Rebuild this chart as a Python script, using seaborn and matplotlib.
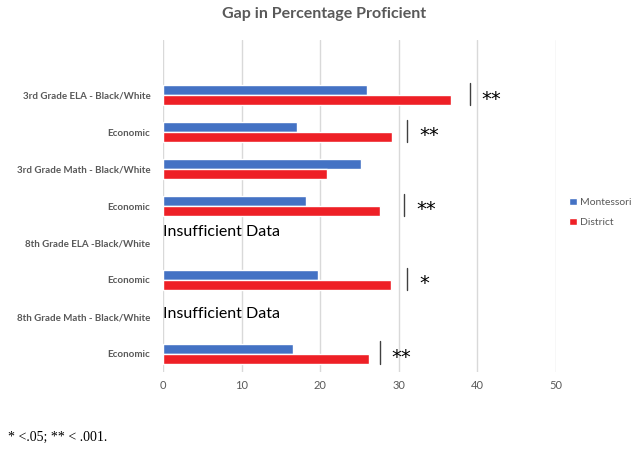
import matplotlib
matplotlib.use("Agg")
import matplotlib.pyplot as plt
import seaborn as sns
import pandas as pd
import numpy as np

categories = ["3rd Grade ELA - Black/White", "Economic", "3rd Grade Math - Black/White",
              "Economic", "8th Grade ELA -Black/White", "Economic",
              "8th Grade Math - Black/White", "Economic"]
montessori = [26.0, 17.0, 25.2, 18.2, np.nan, 19.7, np.nan, 16.5]
district = [36.7, 29.1, 20.9, 27.6, np.nan, 29.0, np.nan, 26.2]
sig_x = [39.0, 31.1, np.nan, 30.7, np.nan, 31.1, np.nan, 27.6]
sig_text = ["**", "**", "", "**", "", "*", "", "**"]
series = ["Montessori", "District"]
xticks = [0, 10, 20, 30, 40, 50]

keys = [f"{i}" for i in range(len(categories))]
rows = []
for k, m, d in zip(keys, montessori, district):
    rows.append({"cat": k, "series": "Montessori", "value": m})
    rows.append({"cat": k, "series": "District", "value": d})
df = pd.DataFrame(rows)

sns.set_theme(style="white")
plt.rcParams['font.family'] = ['Lato', 'DejaVu Sans']

fig = plt.figure(figsize=(6.35, 4.5), dpi=100)
ax = fig.add_axes([163/635, 1-372/450, (556-163)/635, (372-40)/450])

palette = {"Montessori": "#4472C4", "District": "#EE2026"}
sns.barplot(data=df, y="cat", x="value", hue="series", order=keys, hue_order=series,
            palette=palette, orient="h", width=0.54, ax=ax, saturation=1, legend=True)

ax.set_xlim(0, 50)
ax.set_ylim(len(keys) - 0.5, -1.5)
ax.set_xticks(xticks)
ax.set_xticklabels([str(t) for t in xticks], color="#595959", fontsize=8)
ax.set_yticks(range(len(keys)))
ax.set_yticklabels(categories, color="#595959", fontsize=7, fontweight="bold")
ax.tick_params(axis="both", length=0, pad=6)
ax.tick_params(axis="y", pad=9)
ax.set_xlabel("")
ax.set_ylabel("")
for s in ax.spines.values():
    s.set_visible(False)
ax.grid(axis="x", color="#D9D9D9", linewidth=1)
ax.set_axisbelow(True)

# Insufficient data labels (vertical offset per occurrence, in category units)
insuff_offsets = [-0.3, -0.08]
n = 0
for i, (m, d) in enumerate(zip(montessori, district)):
    if np.isnan(m) and np.isnan(d):
        off = insuff_offsets[min(n, len(insuff_offsets) - 1)]
        n += 1
        ax.text(0.0, i + off, "Insufficient Data", fontsize=11.5, color="black",
                va="center", ha="left")

# significance markers
for i, (sx, st) in enumerate(zip(sig_x, sig_text)):
    if not np.isnan(sx):
        ax.plot([sx, sx], [i - 0.33, i + 0.27], color="#404040", linewidth=1, clip_on=False)
        ax.text(sx + 1.5, i + 0.1, st, fontsize=14, color="black", va="center", ha="left",
                family="DejaVu Sans")

leg = ax.legend(loc="center left", bbox_to_anchor=(1.01, 0.48), frameon=False,
                fontsize=7.5, handlelength=0.7, handleheight=0.7, handletextpad=0.3,
                labelspacing=1.0)
for t in leg.get_texts():
    t.set_color("#595959")

fig.text(324/635, 1-14/450, "Gap in Percentage Proficient", ha="center", va="center",
         fontsize=11.5, fontweight="bold", color="#595959")
fig.text(8/635, 1-437/450, "* <.05; ** < .001.", ha="left", va="center",
         fontsize=10, family="Liberation Serif", color="black")

fig.savefig("out.png", dpi=100)
